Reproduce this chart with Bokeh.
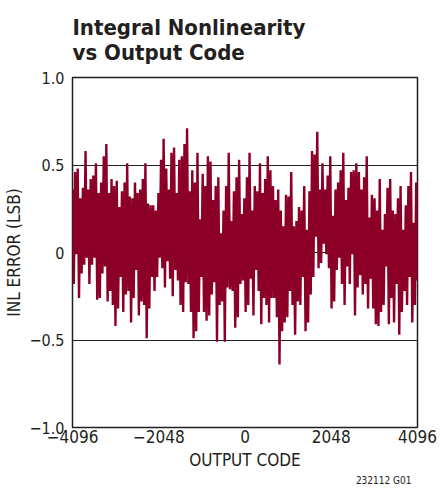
from bokeh.plotting import figure
from bokeh.models import FixedTicker, Title, Range1d
from bokeh.embed import file_html
from bokeh.resources import INLINE

# Upper spike tips (LSB), left to right
HIGHS = [0.36, 0.46, 0.48, 0.31, 0.37, 0.58, 0.36, 0.42, 0.44, 0.51, 0.34, 0.40, 0.55, 0.62, 0.34, 0.42,
         0.38, 0.41, 0.26, 0.35, 0.40, 0.51, 0.32, 0.31, 0.40, 0.34, 0.36, 0.42, 0.51, 0.28, 0.27, 0.27,
         0.24, 0.34, 0.53, 0.65, 0.48, 0.36, 0.57, 0.60,
         0.34, 0.53, 0.55, 0.62, 0.71, 0.35, 0.47, 0.40, 0.57, 0.19, 0.45, 0.38, 0.55, 0.52, 0.30, 0.38,
         0.43, 0.11, 0.24, 0.38, 0.57, 0.18, 0.35, 0.43, 0.53, 0.22, 0.31, 0.43, 0.57, 0.24, 0.38, 0.35,
         0.51, 0.34, 0.42, 0.55, 0.47, 0.38, 0.30, 0.36, 0.24,
         0.15, 0.33, 0.32, 0.46, 0.15, 0.18, 0.26, 0.24, 0.38, 0.13, 0.35, 0.58, 0.56, 0.69, 0.36, 0.51,
         0.36, 0.44, 0.55, 0.21, 0.36, 0.40, 0.47, 0.57, 0.30, 0.37, 0.46, 0.47, 0.51, 0.46, 0.36, 0.43,
         0.55, 0.20, 0.33, 0.31, 0.24, 0.42, 0.13, 0.22, 0.37, 0.42, 0.24, 0.22, 0.31, 0.38, 0.13, 0.27,
         0.38, 0.46, 0.17, 0.40]

# Lower spike tips (LSB), left to right
LOWS = [-0.18, -0.01, -0.26, -0.12, -0.07, -0.03, -0.18, -0.07, -0.03, -0.27, -0.26, -0.12, -0.08, -0.28,
        -0.22, -0.30, -0.42, -0.32, -0.14, -0.34, -0.24, -0.22, -0.40, -0.26, -0.10, -0.36, -0.28, -0.30,
        -0.49, -0.32, -0.14, -0.22, -0.14, -0.03, -0.09, -0.20, -0.05, -0.15, -0.25, -0.10,
        -0.16, -0.30, -0.34, -0.17, -0.18, -0.34, -0.49, -0.45, -0.34, -0.14, -0.34, -0.39, -0.36, -0.24,
        -0.17, -0.51, -0.30, -0.28, -0.51, -0.20, -0.21, -0.22, -0.43, -0.37, -0.18, -0.16, -0.34, -0.30,
        -0.15, -0.36, -0.10, -0.22, -0.41, -0.26, -0.30, -0.40, -0.26, -0.26, -0.37, -0.64, -0.45,
        -0.40, -0.37, -0.22, -0.30, -0.47, -0.28, -0.30, -0.14, -0.45, -0.40, -0.24, -0.14, 0.09, -0.09,
        -0.06, 0.05, -0.01, -0.09, -0.32, -0.28, -0.10, -0.03, -0.18, -0.30, -0.08, -0.18, -0.01, -0.36,
        -0.20, -0.13, -0.24, -0.18, -0.32, -0.15, -0.32, -0.41, -0.42, -0.34, -0.30, -0.08, -0.41, -0.26,
        -0.40, -0.18, -0.47, -0.34, -0.22, -0.30, -0.14, -0.40, -0.30, -0.16]

CODE_MIN, CODE_MAX = -4096, 4096
X_TICKS = [-4096, -2048, 0, 2048, 4096]
X_LABELS = ["\u22124096", "\u22122048", "0", "2048", "4096"]
Y_TICKS = [-1.0, -0.5, 0.0, 0.5, 1.0]
Y_LABELS = ["\u22121.0", "\u22120.5", "0", "0.5", "1.0"]

inl = []
for h, l in zip(HIGHS, LOWS):
    inl.append(h)
    inl.append(l)
n = len(inl)
codes = [CODE_MIN + (CODE_MAX - CODE_MIN) * i / (n - 1) for i in range(n)]

FONT = "'DejaVu Sans Condensed', 'Liberation Sans', sans-serif"
INK = "#231f20"
RED = "#8c0028"

p = figure(width=438, height=485, output_backend="svg", toolbar_location=None,
           x_range=Range1d(CODE_MIN, CODE_MAX), y_range=Range1d(-1.0, 1.0),
           min_border_left=64, min_border_right=21, min_border_top=10, min_border_bottom=10)
p.title = None

p.add_layout(Title(text="232112 G01", text_font=FONT, text_font_size="10px",
                   text_font_style="normal", text_color=INK, align="right", offset=6,
                   standoff=0), "below")
p.add_layout(Title(text="Integral Nonlinearity\nvs Output Code", text_font=FONT,
                   text_font_size="22px", text_font_style="bold", text_color=INK,
                   align="left", standoff=25), "above")

p.line(codes, inl, line_color=RED, line_width=2.4)

p.outline_line_color = INK
p.outline_line_width = 1.5
p.background_fill_color = "white"
p.border_fill_color = "white"

p.xgrid.visible = False
p.ygrid.ticker = FixedTicker(ticks=[-0.5, 0.0, 0.5])
p.ygrid.grid_line_color = INK
p.ygrid.grid_line_width = 1
p.ygrid.level = "underlay"

p.xaxis.ticker = FixedTicker(ticks=X_TICKS)
p.xaxis.major_label_overrides = dict(zip(X_TICKS, X_LABELS))
p.yaxis.ticker = FixedTicker(ticks=Y_TICKS)
p.yaxis.major_label_overrides = dict(zip(Y_TICKS, Y_LABELS))

for ax in (p.xaxis[0], p.yaxis[0]):
    ax.axis_line_color = None
    ax.major_tick_line_color = None
    ax.minor_tick_line_color = None
    ax.major_tick_out = 0
    ax.major_tick_in = 0
    ax.major_label_text_font = FONT
    ax.major_label_text_color = INK
    ax.axis_label_text_font = FONT
    ax.axis_label_text_font_size = "17px"
    ax.axis_label_text_font_style = "normal"
    ax.axis_label_text_color = INK

p.xaxis.major_label_text_font_size = "17px"
p.yaxis.major_label_text_font_size = "16px"
p.xaxis.axis_label = "OUTPUT CODE"
p.yaxis.axis_label = "INL ERROR (LSB)"
p.xaxis.major_label_standoff = 2
p.yaxis.major_label_standoff = 8
p.xaxis.axis_label_standoff = 4
p.yaxis.axis_label_standoff = 3

open("out.html", "w").write(file_html(p, INLINE))
